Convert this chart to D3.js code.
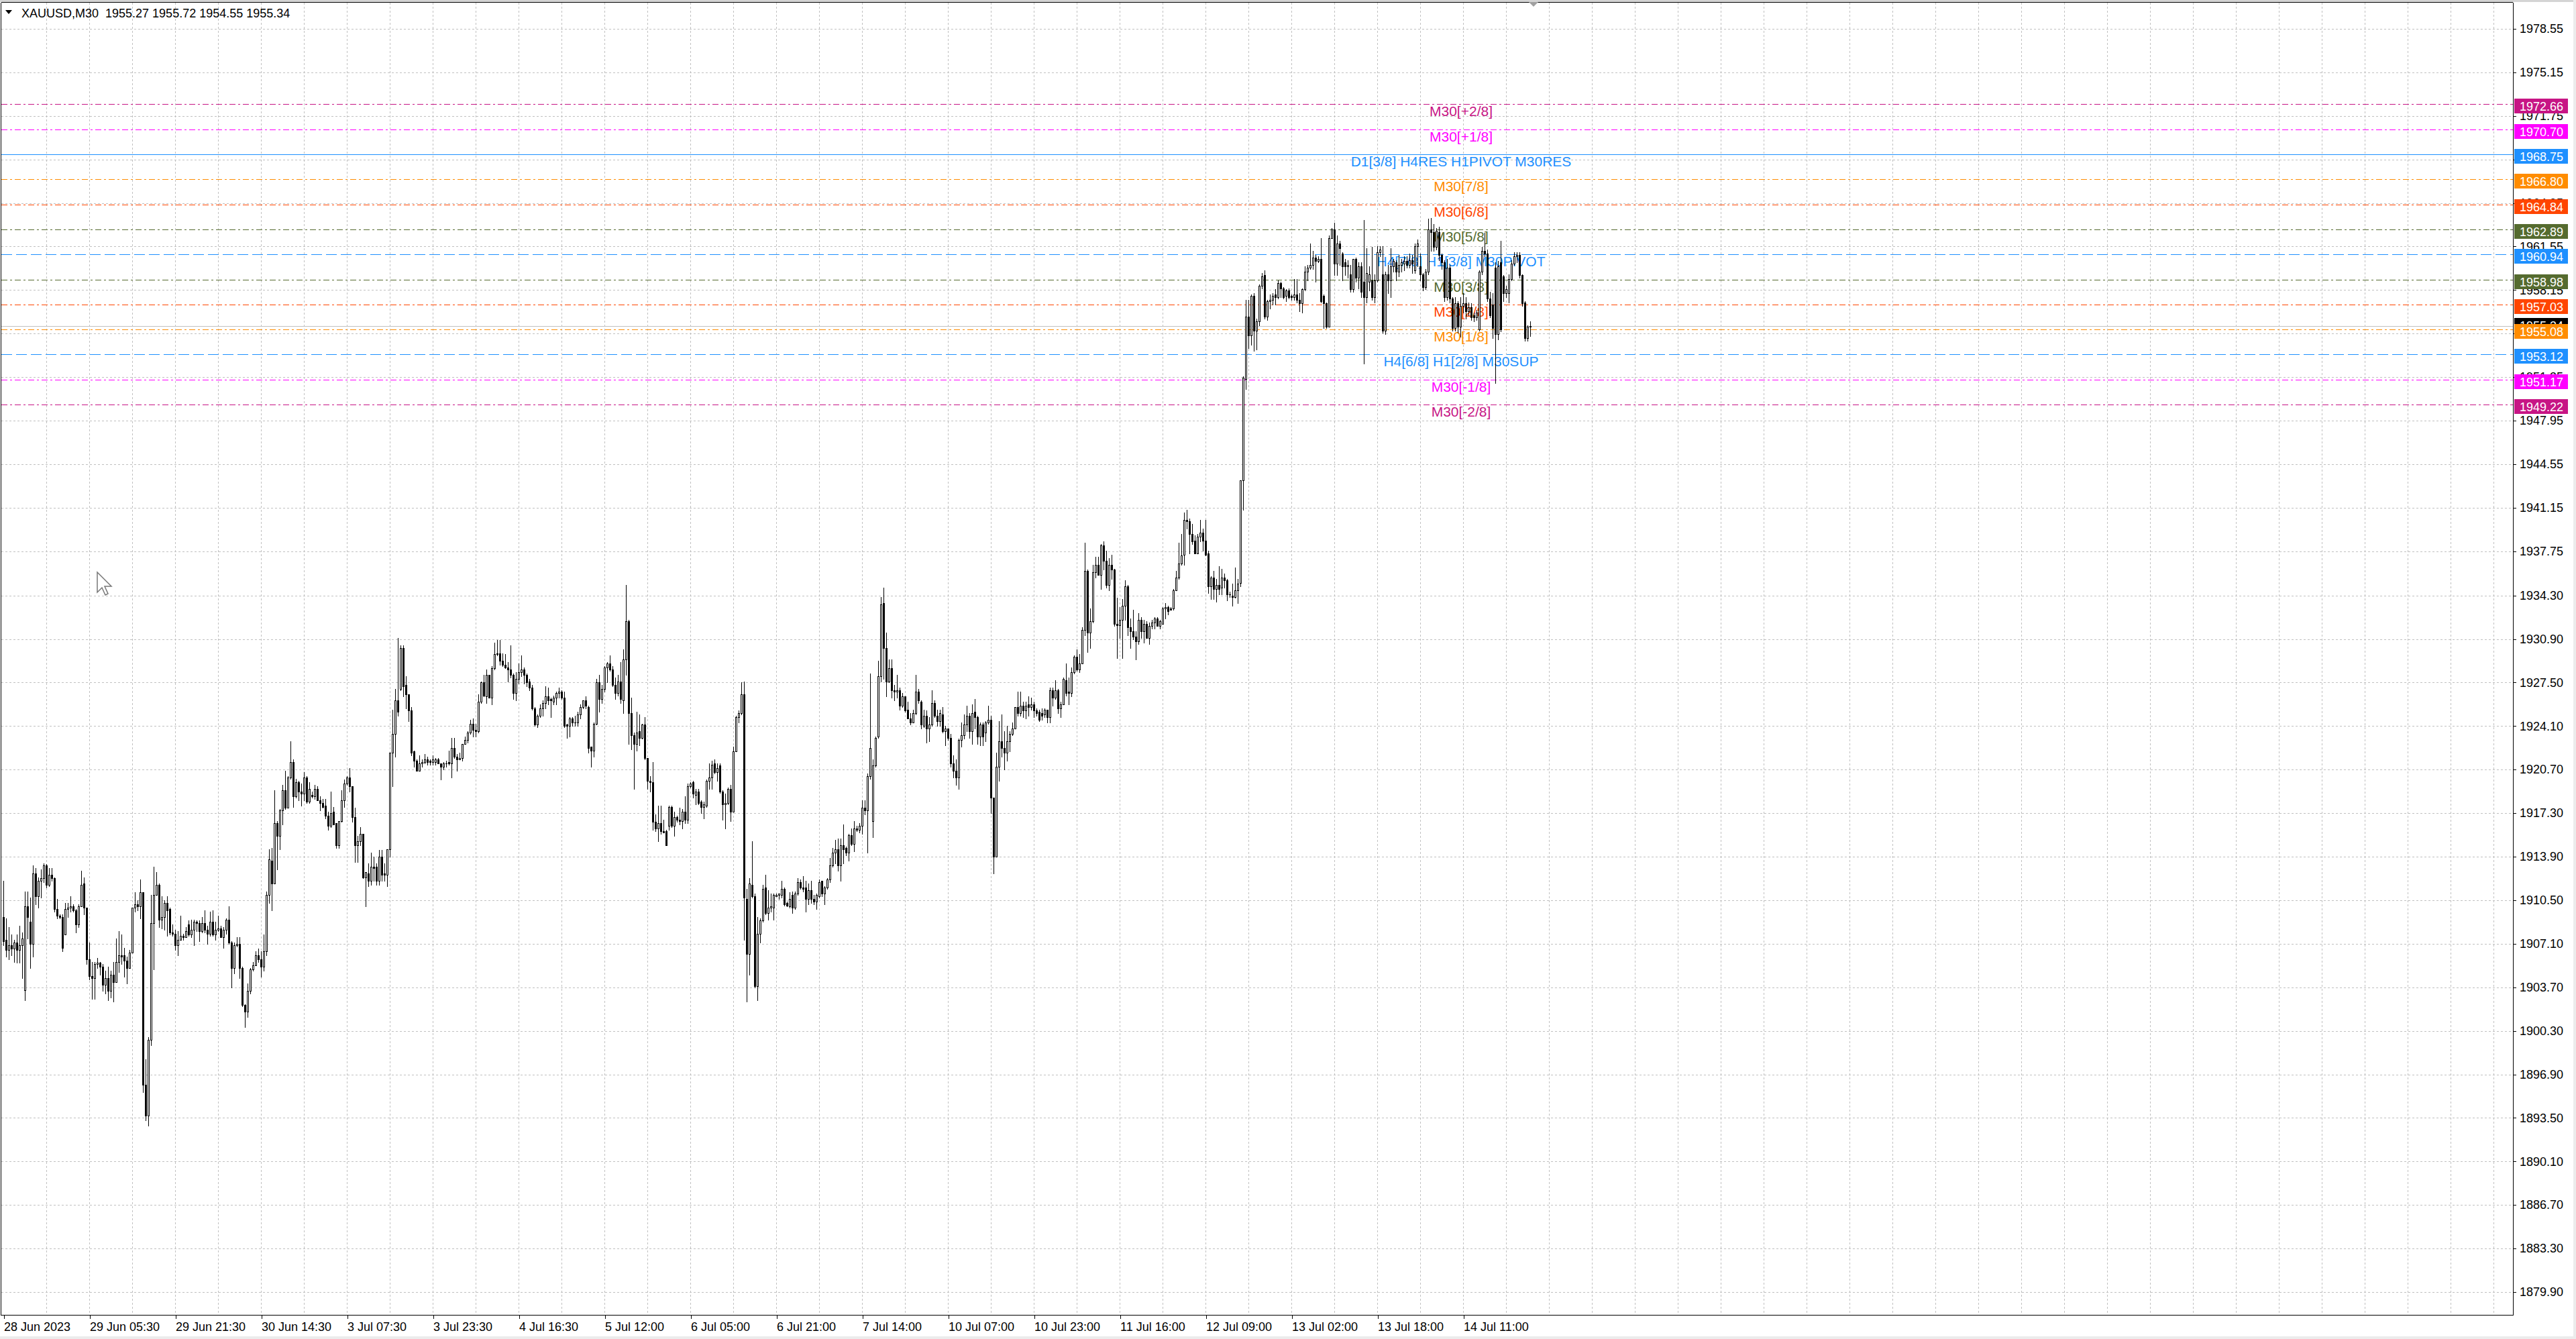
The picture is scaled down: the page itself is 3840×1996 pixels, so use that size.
<!DOCTYPE html>
<html><head><meta charset="utf-8">
<script src="https://cdn.jsdelivr.net/npm/d3@7"></script>
<style>
html,body{margin:0;padding:0;background:#fff;}
svg{display:block;}
text{font-family:"Liberation Sans",Arial,sans-serif;}
</style></head><body>
<svg id="chart" width="3840" height="1996"></svg>
<script>
// ---------------- DATA ----------------
const titleText = "XAUUSD,M30  1955.27 1955.72 1954.55 1955.34";
const timeLabels = ["28 Jun 2023","29 Jun 05:30","29 Jun 21:30","30 Jun 14:30","3 Jul 07:30","3 Jul 23:30","4 Jul 16:30","5 Jul 12:00","6 Jul 05:00","6 Jul 21:00","7 Jul 14:00","10 Jul 07:00","10 Jul 23:00","11 Jul 16:00","12 Jul 09:00","13 Jul 02:00","13 Jul 18:00","14 Jul 11:00"];
const timeLabelBars = [0,32,64,96,128,160,192,224,256,288,320,352,384,416,448,480,512,544];
const priceTicks = ["1978.55","1975.15","1971.75","1968.35","1964.95","1961.55","1958.15","1954.75","1951.35","1947.95","1944.55","1941.15","1937.75","1934.30","1930.90","1927.50","1924.10","1920.70","1917.30","1913.90","1910.50","1907.10","1903.70","1900.30","1896.90","1893.50","1890.10","1886.70","1883.30","1879.90"];
const bidPrice = 1955.34;
const levelValues = [1972.66,1970.70,1968.75,1966.80,1964.84,1962.89,1960.94,1958.98,1957.03,1955.08,1953.12,1951.17,1949.22];
const levelNames = ["M30[+2/8]","M30[+1/8]","D1[3/8] H4RES H1PIVOT M30RES","M30[7/8]","M30[6/8]","M30[5/8]","H4[7/8] H1[3/8] M30PIVOT","M30[3/8]","M30[2/8]","M30[1/8]","H4[6/8] H1[2/8] M30SUP","M30[-1/8]","M30[-2/8]"];

const open = [
1909.2,1907.4,1906.6,1907.0,1906.7,1907.2,1906.6,1907.0,1903.5,1910.0,
1908.8,1907.1,1912.6,1910.8,1912.0,1912.2,1913.2,1911.7,1912.5,1912.2,
1909.8,1909.3,1909.2,1907.8,1909.8,1909.9,1910.0,1909.7,1908.6,1910.0,
1911.8,1909.9,1905.9,1904.6,1904.4,1905.5,1905.6,1905.3,1903.9,1904.4,
1903.4,1904.7,1904.1,1905.7,1906.2,1906.2,1905.8,1905.2,1906.4,1909.9,
1910.2,1910.0,1911.1,1896.1,1893.7,1899.6,1908.7,1910.9,1911.7,1909.0,
1909.2,1910.3,1909.8,1908.0,1907.9,1907.0,1907.4,1907.7,1907.6,1908.6,
1907.8,1908.2,1908.8,1908.7,1908.1,1908.7,1908.2,1907.9,1908.8,1907.8,
1908.2,1908.3,1907.6,1908.2,1909.0,1907.2,1905.2,1907.0,1907.1,1905.2,
1902.3,1901.8,1903.4,1905.1,1905.4,1906.2,1905.9,1905.3,1906.5,1910.9,
1913.6,1911.8,1916.5,1915.5,1917.5,1919.1,1917.7,1920.1,1921.3,1918.6,
1919.7,1919.0,1918.8,1920.1,1918.2,1918.7,1918.6,1919.2,1918.3,1918.1,
1917.9,1917.1,1916.3,1917.4,1916.5,1914.8,1916.7,1918.3,1919.6,1920.1,
1919.4,1917.0,1914.8,1915.1,1915.7,1912.3,1912.6,1912.0,1913.1,1913.1,
1912.0,1913.9,1912.6,1912.5,1914.5,1922.0,1923.5,1926.1,1927.0,1930.2,
1927.3,1926.6,1925.3,1922.1,1921.4,1920.6,1921.2,1921.3,1921.5,1921.4,
1921.3,1921.3,1921.5,1921.2,1920.9,1921.2,1921.3,1921.2,1922.4,1921.7,
1921.5,1921.6,1922.7,1923.0,1923.6,1924.3,1923.8,1923.7,1926.0,1927.5,
1926.4,1928.1,1926.3,1928.6,1929.7,1929.8,1929.2,1928.9,1928.7,1928.5,
1928.1,1926.7,1927.8,1928.3,1928.5,1928.1,1927.6,1927.1,1925.5,1924.2,
1924.9,1925.5,1925.9,1926.4,1926.2,1926.0,1926.3,1926.7,1926.8,1926.3,
1924.2,1924.1,1924.7,1924.4,1924.4,1925.0,1925.6,1926.1,1925.6,1922.5,
1922.2,1924.3,1927.5,1926.2,1927.0,1928.7,1929.0,1928.5,1927.3,1926.7,
1927.6,1926.1,1929.3,1932.3,1925.1,1923.4,1922.7,1923.7,1923.2,1924.2,
1921.6,1919.8,1919.7,1916.6,1916.1,1916.5,1915.9,1915.9,1916.3,1917.8,
1916.3,1917.0,1916.8,1916.7,1917.4,1916.8,1919.4,1919.7,1918.7,1919.0,
1918.2,1917.8,1917.9,1919.8,1920.1,1921.2,1920.5,1921.0,1919.0,1918.0,
1918.1,1919.2,1917.4,1922.1,1924.8,1925.1,1926.6,1910.6,1906.3,1911.7,
1910.8,1903.8,1907.9,1908.9,1911.5,1909.5,1909.9,1909.9,1910.8,1910.9,
1910.9,1911.4,1910.3,1910.0,1910.9,1909.9,1911.0,1911.9,1911.5,1911.5,
1910.6,1911.3,1910.6,1910.4,1910.8,1912.0,1911.0,1911.5,1912.1,1913.2,
1914.2,1914.5,1913.2,1914.8,1914.6,1914.2,1915.6,1914.9,1916.1,1916.0,
1916.3,1917.7,1917.5,1920.2,1916.7,1921.0,1923.3,1928.0,1933.7,1930.2,
1927.6,1928.6,1926.9,1926.8,1926.9,1925.7,1926.4,1925.4,1924.7,1924.4,
1925.1,1926.8,1926.0,1924.1,1924.9,1923.9,1924.2,1925.9,1924.9,1924.5,
1925.0,1923.7,1923.9,1923.2,1921.2,1920.6,1920.1,1923.0,1923.4,1924.2,
1924.9,1923.7,1925.2,1924.8,1923.3,1924.2,1923.6,1924.4,1924.6,1918.5,
1913.9,1920.9,1922.9,1922.4,1922.0,1922.9,1923.5,1923.9,1925.6,1925.1,
1925.7,1925.3,1925.8,1925.6,1925.8,1925.3,1925.2,1925.1,1925.0,1925.4,
1924.8,1926.9,1926.3,1926.9,1925.5,1925.8,1927.7,1926.8,1926.7,1928.3,
1929.5,1928.5,1929.0,1931.6,1936.2,1931.4,1932.3,1936.1,1936.7,1935.9,
1938.2,1937.0,1935.1,1936.7,1936.3,1932.1,1932.0,1932.4,1933.5,1935.0,
1931.8,1931.5,1931.1,1930.7,1932.4,1931.5,1932.1,1931.0,1931.9,1932.2,
1932.5,1931.9,1932.1,1933.3,1933.4,1933.3,1933.3,1934.7,1935.7,1936.8,
1937.5,1940.2,1940.1,1939.1,1938.6,1937.6,1938.9,1939.2,1938.6,1937.6,
1935.0,1935.7,1934.8,1935.1,1934.9,1935.7,1935.5,1934.4,1934.3,1934.2,
1934.7,1935.3,1943.3,1951.2,1956.1,1954.6,1957.7,1955.0,1955.7,1958.5,
1959.3,1956.1,1957.3,1957.4,1957.8,1957.6,1958.7,1958.3,1957.7,1958.1,
1957.7,1957.6,1957.8,1957.4,1957.1,1958.2,1959.6,1959.9,1960.1,1960.7,
1960.4,1960.6,1957.7,1957.1,1955.3,1962.2,1962.9,1960.2,1961.8,1961.0,
1960.3,1960.0,1959.4,1958.2,1960.6,1959.1,1960.0,1958.8,1957.6,1958.8,
1958.9,1957.6,1958.9,1961.1,1959.4,1955.0,1959.4,1958.9,1960.0,1960.3,
1959.6,1960.1,1960.2,1960.4,1960.1,1960.5,1959.7,1961.6,1960.0,1959.4,
1958.4,1959.6,1962.9,1962.7,1961.5,1962.7,1960.9,1960.3,1957.6,1959.9,
1957.5,1955.2,1957.1,1955.3,1956.9,1957.1,1956.5,1956.8,1956.2,1956.0,
1955.1,1959.6,1961.2,1961.0,1957.5,1957.0,1959.9,1954.7,1960.3,1959.2,
1957.9,1957.9,1959.0,1960.2,1960.8,1960.9,1959.3,1957.2,1954.4,1955.27];

const high = [
1912.0,1909.1,1908.4,1907.8,1907.4,1907.8,1908.5,1908.0,1911.2,1911.2,
1910.7,1913.2,1913.0,1912.3,1912.9,1913.4,1913.3,1913.0,1913.0,1912.3,
1910.6,1909.4,1909.4,1910.3,1910.3,1910.8,1910.2,1909.8,1910.2,1912.8,
1912.3,1909.9,1907.2,1905.7,1905.7,1906.0,1905.7,1905.5,1905.0,1905.3,
1905.0,1905.7,1907.5,1908.1,1907.8,1906.8,1906.1,1906.6,1909.9,1911.1,
1910.5,1912.1,1911.1,1898.1,1899.8,1910.9,1913.1,1912.7,1911.8,1910.8,
1910.5,1910.8,1909.9,1908.6,1908.2,1908.1,1909.3,1907.9,1908.4,1908.9,
1909.0,1909.0,1908.9,1908.9,1909.2,1909.7,1908.5,1909.6,1909.7,1908.8,
1909.3,1908.5,1908.4,1909.1,1910.0,1907.3,1907.2,1907.6,1907.6,1905.3,
1902.4,1904.0,1905.2,1905.7,1906.5,1906.7,1906.5,1907.8,1911.2,1914.5,
1914.6,1919.1,1916.7,1917.6,1919.5,1920.6,1920.2,1922.9,1921.5,1920.0,
1919.8,1919.6,1920.5,1920.2,1919.7,1919.0,1919.5,1919.4,1918.6,1918.4,
1918.4,1917.4,1919.0,1917.8,1916.5,1916.7,1919.1,1919.9,1920.2,1920.8,
1919.4,1917.7,1915.5,1916.2,1915.7,1912.7,1913.4,1914.2,1913.9,1913.4,
1914.4,1914.4,1913.4,1914.5,1922.0,1925.4,1927.0,1931.0,1930.4,1930.4,
1928.0,1926.6,1925.6,1922.2,1921.5,1921.8,1921.5,1921.9,1921.7,1921.5,
1921.8,1921.6,1921.6,1921.2,1921.3,1921.4,1922.2,1923.2,1923.2,1921.9,
1922.0,1922.7,1923.3,1923.7,1924.6,1924.7,1924.3,1926.6,1927.6,1928.1,
1928.5,1928.1,1928.8,1930.6,1930.8,1930.8,1929.8,1929.7,1929.1,1930.4,
1928.2,1928.3,1929.0,1929.6,1928.7,1928.2,1927.8,1927.3,1925.6,1925.0,
1925.8,1926.1,1927.2,1927.1,1926.3,1926.5,1926.8,1927.1,1926.9,1926.8,
1924.3,1924.8,1924.8,1924.9,1925.2,1925.8,1926.1,1926.4,1925.7,1922.5,
1924.4,1927.8,1928.1,1927.3,1928.8,1929.1,1929.6,1928.8,1927.9,1928.1,
1929.1,1930.1,1935.1,1932.4,1926.3,1923.6,1925.2,1925.0,1924.3,1924.8,
1921.6,1920.2,1921.3,1917.2,1917.9,1917.9,1916.8,1916.0,1917.9,1917.9,
1917.4,1917.1,1917.7,1917.6,1918.6,1919.6,1919.7,1919.8,1919.2,1919.2,
1918.3,1918.2,1919.9,1921.2,1921.4,1921.5,1921.2,1921.2,1919.1,1918.8,
1919.3,1919.5,1922.5,1924.9,1925.3,1927.5,1927.6,1911.4,1912.2,1915.1,
1911.0,1909.2,1909.1,1911.7,1912.5,1911.3,1911.0,1911.0,1911.0,1911.0,
1912.0,1911.5,1910.4,1911.1,1911.2,1911.2,1912.2,1912.1,1912.4,1912.0,
1911.8,1912.0,1910.9,1911.0,1912.1,1912.0,1911.6,1912.2,1913.8,1914.6,
1915.2,1915.3,1915.3,1916.4,1914.7,1915.7,1916.1,1916.7,1916.3,1916.5,
1918.3,1918.3,1920.4,1928.2,1921.5,1923.3,1929.2,1934.2,1934.9,1931.4,
1929.3,1929.3,1927.3,1928.1,1927.1,1926.7,1926.4,1926.0,1925.1,1925.4,
1928.1,1927.0,1926.1,1925.4,1925.3,1924.8,1926.9,1926.1,1925.4,1925.4,
1925.6,1924.1,1923.9,1923.5,1921.8,1921.5,1923.1,1924.4,1925.0,1925.7,
1925.1,1925.8,1926.2,1924.9,1924.4,1924.4,1924.5,1925.7,1924.9,1918.5,
1922.0,1924.5,1925.0,1923.7,1924.1,1923.7,1924.4,1925.6,1926.8,1926.8,
1926.0,1926.0,1926.4,1926.3,1926.0,1925.5,1925.4,1925.5,1925.5,1925.4,
1927.1,1927.1,1927.7,1927.0,1926.0,1927.9,1929.0,1927.9,1928.7,1929.6,
1930.1,1929.7,1931.8,1938.4,1936.3,1933.3,1936.7,1937.3,1937.3,1938.3,
1938.5,1937.8,1937.2,1937.5,1936.4,1934.1,1933.4,1934.0,1935.5,1935.1,
1932.5,1933.2,1931.5,1932.9,1932.6,1932.4,1932.3,1932.2,1932.4,1932.6,
1932.6,1932.4,1933.4,1933.7,1933.5,1933.4,1934.8,1936.2,1938.4,1939.1,
1940.8,1941.0,1940.3,1939.9,1939.0,1939.1,1940.2,1939.5,1940.2,1937.8,
1935.8,1936.2,1935.6,1936.6,1936.4,1936.0,1935.6,1934.6,1935.2,1936.5,
1935.6,1943.3,1951.4,1957.4,1957.4,1957.8,1957.9,1955.9,1958.6,1959.5,
1959.7,1957.4,1957.8,1957.9,1958.2,1958.9,1958.8,1958.4,1958.2,1958.3,
1957.8,1959.0,1959.0,1957.9,1958.3,1960.0,1960.1,1961.8,1961.2,1960.9,
1960.8,1962.2,1957.8,1957.2,1962.4,1963.0,1963.4,1962.4,1962.0,1961.1,
1960.6,1960.5,1960.1,1960.6,1960.7,1960.3,1960.3,1963.6,1961.4,1960.0,
1961.5,1959.4,1961.6,1961.6,1961.6,1959.6,1960.1,1961.4,1960.6,1960.5,
1960.9,1960.6,1960.8,1960.8,1961.0,1960.9,1961.8,1962.1,1961.0,1959.5,
1959.8,1963.7,1963.8,1963.3,1963.0,1963.1,1961.0,1960.5,1960.6,1960.1,
1957.6,1957.6,1957.3,1957.6,1957.9,1957.6,1957.2,1957.1,1956.4,1956.6,
1959.7,1961.5,1962.6,1961.3,1958.0,1957.9,1960.3,1960.4,1962.0,1959.3,
1958.5,1959.4,1960.5,1961.1,1961.1,1961.1,1959.4,1957.3,1955.4,1955.72];

const low = [
1907.0,1906.1,1905.9,1906.2,1905.7,1905.6,1905.6,1904.4,1902.7,1907.5,
1905.2,1906.1,1910.2,1909.9,1910.7,1911.9,1911.5,1911.6,1912.0,1909.6,
1909.1,1909.1,1906.5,1907.8,1909.2,1909.6,1909.6,1908.0,1908.4,1910.0,
1909.4,1905.5,1904.3,1902.8,1902.8,1905.2,1904.7,1903.4,1903.2,1902.7,
1902.9,1902.6,1904.1,1904.9,1905.5,1904.5,1904.0,1905.2,1906.4,1909.6,
1909.7,1909.1,1895.5,1893.3,1892.9,1899.2,1905.1,1910.9,1908.4,1908.3,
1908.2,1907.7,1907.8,1907.7,1906.6,1906.2,1907.4,1907.4,1907.6,1907.7,
1907.6,1907.0,1908.1,1907.3,1908.0,1908.0,1907.1,1907.7,1907.7,1907.4,
1908.1,1907.6,1906.8,1907.9,1907.1,1903.7,1904.8,1906.9,1904.4,1902.2,
1900.6,1901.4,1903.2,1905.0,1905.4,1905.7,1904.5,1905.0,1906.2,1910.3,
1909.7,1911.8,1912.9,1914.5,1916.4,1917.6,1917.7,1920.0,1917.8,1918.5,
1918.3,1917.9,1918.3,1918.1,1918.1,1918.5,1918.4,1918.3,1917.5,1917.7,
1916.9,1916.0,1916.2,1916.4,1914.6,1914.6,1916.6,1917.8,1919.5,1919.0,
1916.6,1913.5,1913.5,1914.8,1912.2,1910.0,1911.6,1911.7,1912.0,1911.7,
1911.7,1912.0,1912.0,1911.6,1913.9,1919.4,1921.7,1924.9,1926.9,1926.4,
1925.5,1924.5,1921.8,1920.9,1920.6,1920.6,1920.9,1921.2,1921.1,1921.1,
1921.1,1921.1,1921.2,1919.9,1920.7,1920.9,1921.1,1920.1,1921.6,1920.6,
1921.5,1921.4,1922.7,1922.8,1923.5,1923.3,1923.3,1923.6,1925.9,1926.4,
1925.9,1926.3,1925.8,1928.5,1929.6,1928.9,1928.8,1928.6,1927.6,1927.9,
1926.2,1926.1,1927.4,1928.0,1927.4,1927.2,1926.9,1925.4,1924.1,1924.0,
1924.8,1924.9,1925.5,1925.8,1924.8,1925.8,1925.8,1926.3,1926.2,1924.0,
1923.2,1923.3,1924.1,1924.1,1924.1,1924.7,1925.5,1925.5,1922.0,1920.9,
1921.7,1924.2,1925.2,1925.9,1926.8,1927.5,1928.4,1927.2,1926.2,1926.5,
1925.9,1925.1,1928.1,1922.7,1922.3,1919.2,1922.2,1922.6,1923.1,1921.5,
1919.2,1919.0,1916.0,1915.9,1915.1,1915.7,1915.8,1914.8,1916.0,1916.2,
1915.5,1916.6,1916.4,1916.1,1916.5,1916.5,1919.3,1918.5,1918.0,1918.0,
1917.3,1916.9,1917.8,1919.2,1919.2,1920.4,1919.8,1918.9,1916.8,1916.1,
1918.0,1916.7,1917.4,1922.1,1924.4,1925.0,1907.4,1902.6,1904.7,1910.7,
1903.7,1902.7,1907.2,1908.8,1909.4,1909.0,1909.6,1909.0,1910.8,1910.6,
1910.7,1910.1,1910.0,1909.9,1909.5,1909.8,1910.9,1911.4,1911.2,1909.6,
1910.2,1910.3,1910.2,1909.8,1910.7,1910.8,1910.2,1911.4,1911.9,1913.1,
1913.4,1912.8,1912.0,1913.4,1914.0,1913.6,1914.8,1914.3,1915.9,1915.8,
1915.7,1917.2,1914.2,1920.0,1915.4,1920.9,1923.2,1927.6,1927.8,1926.4,
1927.5,1926.3,1926.1,1926.3,1925.4,1925.6,1925.2,1924.7,1924.2,1924.4,
1925.0,1925.9,1923.9,1924.0,1922.8,1922.9,1924.1,1924.8,1924.1,1924.1,
1923.6,1922.6,1923.0,1920.9,1920.1,1919.5,1919.2,1922.5,1923.1,1923.7,
1923.2,1922.7,1923.9,1922.7,1922.6,1922.6,1922.9,1924.3,1917.3,1912.6,
1913.9,1919.8,1921.7,1920.7,1921.4,1922.1,1923.4,1923.9,1924.9,1924.9,
1924.8,1924.7,1924.9,1925.4,1924.8,1924.9,1924.5,1924.6,1924.8,1924.4,
1924.4,1925.7,1926.2,1925.1,1924.8,1925.8,1926.5,1925.8,1926.4,1928.2,
1928.4,1928.3,1929.0,1931.2,1929.9,1930.2,1932.2,1935.7,1935.9,1934.8,
1936.3,1934.9,1934.7,1935.6,1931.9,1929.4,1931.0,1929.4,1932.4,1931.2,
1930.2,1930.9,1929.3,1930.5,1931.0,1930.6,1931.0,1930.5,1931.7,1931.7,
1931.9,1931.7,1932.1,1932.5,1932.8,1933.2,1933.2,1934.7,1935.6,1936.7,
1936.7,1939.5,1937.6,1938.3,1937.6,1937.6,1938.5,1937.8,1937.4,1934.5,
1934.0,1934.0,1933.8,1934.4,1934.4,1934.9,1933.9,1934.2,1933.5,1934.1,
1933.7,1935.0,1941.0,1950.4,1953.6,1953.9,1953.4,1953.5,1955.4,1958.3,
1955.9,1955.8,1956.7,1957.0,1957.0,1957.5,1957.6,1957.5,1957.3,1957.5,
1957.4,1957.4,1957.2,1956.5,1956.4,1958.1,1958.9,1959.8,1959.8,1958.8,
1960.3,1957.2,1955.2,1955.2,1955.3,1962.2,1959.3,1959.3,1960.1,1958.9,
1959.3,1959.1,1958.0,1958.0,1958.8,1958.3,1957.6,1952.4,1957.2,1958.1,
1957.4,1957.2,1958.8,1960.8,1954.8,1954.7,1957.9,1957.6,1959.6,1958.9,
1959.2,1959.6,1959.7,1959.9,1959.9,1959.5,1959.5,1960.0,1958.9,1958.1,
1958.2,1959.4,1961.2,1961.2,1961.3,1960.5,1959.8,1957.3,1957.4,1957.2,
1955.0,1955.0,1954.8,1954.5,1956.4,1955.9,1956.2,1955.8,1955.7,1955.8,
1955.0,1959.4,1960.8,1957.3,1956.0,1954.4,1950.9,1954.3,1954.9,1957.3,
1957.6,1957.2,1958.9,1960.1,1960.3,1959.1,1956.9,1954.2,1954.2,1954.55];

const close = [
1907.3,1906.6,1907.0,1906.7,1907.2,1906.6,1907.0,1907.5,1910.0,1909.2,
1907.1,1912.6,1910.8,1912.0,1912.2,1913.2,1911.7,1912.5,1912.2,1909.8,
1909.3,1909.2,1906.8,1909.8,1909.9,1910.0,1909.7,1908.6,1910.0,1911.7,
1909.9,1905.9,1904.6,1904.4,1905.5,1905.6,1905.3,1903.9,1904.4,1903.4,
1904.7,1904.1,1905.7,1906.2,1906.1,1905.8,1905.2,1906.4,1909.9,1910.2,
1910.0,1911.1,1896.1,1893.7,1899.6,1908.7,1910.9,1911.7,1909.0,1909.2,
1910.3,1909.7,1908.0,1907.9,1907.0,1907.4,1907.7,1907.6,1908.1,1907.8,
1908.2,1908.8,1908.7,1908.1,1908.7,1908.2,1907.9,1908.8,1907.8,1908.2,
1908.3,1907.6,1908.2,1909.0,1907.2,1905.2,1907.0,1907.1,1905.2,1902.3,
1901.8,1903.4,1905.1,1905.4,1906.2,1905.9,1905.3,1906.5,1910.9,1913.7,
1911.8,1916.5,1915.5,1917.5,1919.1,1917.7,1920.1,1921.3,1918.6,1919.7,
1919.0,1918.8,1920.1,1918.2,1919.2,1918.6,1919.2,1918.3,1918.1,1917.8,
1917.1,1916.3,1917.3,1916.4,1914.8,1916.7,1918.3,1919.6,1920.1,1919.4,
1917.0,1914.8,1915.1,1915.7,1912.3,1912.7,1912.0,1913.1,1913.0,1912.0,
1913.9,1912.5,1912.5,1914.5,1922.0,1923.5,1926.1,1925.2,1930.2,1927.2,
1926.6,1925.3,1922.0,1921.4,1920.6,1921.2,1921.3,1921.5,1921.3,1921.3,
1921.5,1921.5,1921.2,1920.9,1921.2,1921.2,1921.2,1922.4,1921.7,1921.5,
1921.6,1922.7,1923.0,1923.6,1924.3,1923.8,1923.7,1926.0,1927.5,1926.5,
1928.1,1926.3,1928.6,1929.7,1929.8,1929.2,1928.9,1928.7,1928.5,1928.1,
1926.7,1927.8,1928.3,1928.5,1928.1,1927.5,1927.1,1925.5,1924.2,1924.9,
1925.5,1925.9,1926.4,1926.1,1926.1,1926.3,1926.7,1926.8,1926.3,1924.1,
1924.1,1924.7,1924.4,1924.4,1925.0,1925.6,1926.1,1925.7,1922.4,1922.2,
1924.3,1927.5,1926.2,1927.0,1928.7,1929.0,1928.5,1927.3,1926.7,1927.6,
1926.2,1929.3,1932.3,1925.1,1923.4,1922.7,1923.6,1923.2,1924.2,1921.6,
1919.8,1919.7,1916.6,1916.1,1916.5,1915.9,1915.8,1914.8,1917.8,1916.3,
1917.0,1916.8,1916.7,1917.4,1916.8,1919.4,1919.6,1918.8,1919.0,1918.1,
1917.8,1918.0,1919.8,1920.1,1921.1,1920.5,1920.8,1919.0,1918.0,1918.1,
1919.2,1917.4,1922.1,1924.8,1925.1,1926.6,1910.7,1906.3,1911.8,1910.8,
1903.8,1907.9,1908.9,1911.4,1909.5,1909.9,1910.0,1910.9,1910.9,1911.0,
1911.4,1910.2,1910.1,1910.6,1909.9,1911.0,1911.9,1911.5,1911.4,1910.6,
1911.3,1910.6,1910.4,1910.9,1911.9,1911.0,1911.5,1912.1,1913.2,1914.2,
1914.5,1913.2,1914.8,1914.5,1914.2,1915.6,1914.9,1916.1,1916.0,1916.3,
1917.7,1917.5,1920.2,1922.4,1921.0,1923.2,1928.0,1933.6,1930.2,1927.6,
1928.6,1926.9,1926.8,1926.9,1925.7,1926.4,1925.3,1924.7,1924.4,1925.1,
1926.8,1926.1,1924.2,1924.9,1923.9,1924.2,1925.9,1924.9,1924.5,1925.1,
1923.7,1923.9,1923.2,1921.2,1920.6,1920.1,1923.0,1923.4,1924.2,1924.9,
1923.7,1925.1,1924.8,1923.3,1924.2,1923.3,1924.4,1924.6,1918.5,1913.9,
1920.9,1922.9,1922.4,1922.0,1922.9,1923.5,1923.9,1925.6,1925.1,1925.7,
1925.3,1925.7,1925.6,1925.8,1925.3,1925.1,1924.6,1924.9,1925.4,1924.8,
1926.9,1926.3,1926.9,1925.5,1925.8,1927.8,1926.7,1926.7,1928.3,1929.5,
1928.5,1929.0,1931.6,1936.2,1931.4,1932.3,1936.1,1936.7,1935.9,1938.2,
1937.0,1935.1,1936.7,1936.3,1932.1,1932.0,1932.4,1933.5,1935.0,1931.8,
1931.5,1931.1,1930.7,1932.4,1931.5,1932.1,1931.0,1931.9,1932.2,1932.5,
1931.9,1932.3,1933.3,1933.4,1933.1,1933.2,1934.7,1935.7,1936.8,1937.4,
1940.2,1940.1,1939.1,1938.5,1937.6,1938.9,1939.2,1938.6,1937.5,1935.0,
1935.7,1934.8,1935.1,1934.8,1935.7,1935.5,1934.4,1934.4,1934.2,1934.7,
1935.2,1943.3,1951.3,1956.1,1954.6,1957.7,1955.0,1955.7,1958.5,1959.2,
1956.1,1957.3,1957.4,1957.7,1957.6,1958.7,1958.3,1957.6,1958.1,1957.6,
1957.6,1957.8,1957.4,1957.1,1958.2,1959.6,1959.9,1960.1,1960.7,1960.4,
1960.6,1957.3,1957.1,1955.3,1962.2,1962.9,1960.2,1961.8,1961.4,1960.0,
1960.0,1960.1,1958.2,1960.6,1959.1,1960.0,1958.0,1957.6,1959.5,1959.4,
1957.6,1958.9,1961.1,1961.3,1955.0,1959.4,1958.9,1960.0,1960.4,1959.6,
1960.1,1960.3,1960.4,1960.1,1960.5,1960.2,1961.6,1961.8,1959.4,1958.4,
1959.6,1962.9,1962.7,1961.5,1962.8,1960.9,1960.3,1957.6,1959.9,1957.5,
1955.2,1957.1,1955.3,1956.9,1957.1,1956.5,1956.8,1956.0,1956.0,1956.4,
1959.6,1961.2,1961.0,1957.5,1956.2,1955.2,1954.7,1960.0,1955.1,1957.9,
1958.2,1959.0,1960.2,1960.8,1960.9,1959.3,1957.1,1954.4,1955.3,1955.34];

// ---------------- STYLES ----------------
const levelColors = ["#C71585","#FF00FF","#1E90FF","#FF8C00","#FF4500","#556B2F","#1E90FF","#556B2F","#FF4500","#FF8C00","#1E90FF","#FF00FF","#C71585"];
const levelDash = ["9,4,3,4","9,4,3,4",null,"9,4,3,4","9,4,3,4","9,4,3,4","16,6","9,4,3,4","9,4,3,4","9,4,3,4","16,6","9,4,3,4","9,4,3,4"];

// ---------------- CHART ----------------
const W = 3840, H = 1996;
const plot = {left: 2, top: 4, right: 3746, bottom: 1960};
const x = d3.scaleLinear().domain([0, 100]).range([5.5, 405.5]);
const y = d3.scaleLinear().domain([1879.90, 1978.55]).range([1926, 43]);
const svg = d3.select("#chart");

svg.append("rect").attr("width", W).attr("height", H).attr("fill", "#fff");
svg.append("rect").attr("x", 0).attr("y", 0).attr("width", W).attr("height", 3).attr("fill", "#d4d4d4");
svg.append("rect").attr("x", 3836).attr("y", 0).attr("width", 4).attr("height", H).attr("fill", "#ececec");
svg.append("rect").attr("x", 0).attr("y", 1992).attr("width", W).attr("height", 4).attr("fill", "#ececec");

// grid
const grid = svg.append("g").attr("shape-rendering", "crispEdges").attr("stroke", "#c0c0c0").attr("stroke-dasharray", "3,3");
priceTicks.forEach(t => {
  const yy = Math.round(y(+t)) + 0.5;
  grid.append("line").attr("x1", plot.left).attr("x2", plot.right).attr("y1", yy).attr("y2", yy);
});
for (let k = 1; x(16 * k) < plot.right; k++) {
  const xx = Math.floor(x(16 * k)) + 0.5;
  grid.append("line").attr("x1", xx).attr("x2", xx).attr("y1", plot.top).attr("y2", plot.bottom);
}

// level lines
const lv = svg.append("g").attr("shape-rendering", "crispEdges");
levelValues.forEach((v, i) => {
  const yy = Math.round(y(v)) + 0.5;
  const l = lv.append("line").attr("x1", plot.left).attr("x2", plot.right).attr("y1", yy).attr("y2", yy)
    .attr("stroke", levelColors[i]).attr("stroke-width", 1);
  if (levelDash[i]) l.attr("stroke-dasharray", levelDash[i]);
});
// bid line
const by = Math.round(y(bidPrice)) + 0.5;
lv.append("line").attr("x1", plot.left).attr("x2", plot.right).attr("y1", by).attr("y2", by).attr("stroke", "#c0c0c0");

// level texts
const lt = svg.append("g");
levelValues.forEach((v, i) => {
  lt.append("text").attr("x", 2178).attr("y", Math.round(y(v)) + 17.5)
    .attr("text-anchor", "middle").attr("font-size", 21).attr("fill", levelColors[i]).text(levelNames[i]);
});

// candles
const n = Math.min(open.length, high.length, low.length, close.length);
const bars = d3.range(n).map(i => ({i, o: open[i], h: high[i], l: low[i], c: close[i]}));
const cg = svg.append("g").attr("shape-rendering", "crispEdges");
cg.selectAll("line.wick").data(bars).join("line").attr("class", "wick")
  .attr("x1", d => x(d.i)).attr("x2", d => x(d.i))
  .attr("y1", d => Math.round(y(Math.max(d.h, d.o, d.c))))
  .attr("y2", d => Math.round(y(Math.min(d.l, d.o, d.c))) + 1)
  .attr("stroke", "#000").attr("stroke-width", 1);
bars.forEach(d => {
  const top = Math.round(y(Math.max(d.o, d.c)));
  const bot = Math.round(y(Math.min(d.o, d.c)));
  const cx = x(d.i);
  if (d.c > d.o && bot - top >= 2) {
    cg.append("rect").attr("x", cx - 1).attr("y", top + 0.5).attr("width", 2).attr("height", bot - top)
      .attr("fill", "#fff").attr("stroke", "#000").attr("stroke-width", 1);
  } else {
    cg.append("rect").attr("x", cx - 1.5).attr("y", top).attr("width", 3).attr("height", bot - top + 1)
      .attr("fill", "#000");
  }
});

// frame
const fr = svg.append("g").attr("shape-rendering", "crispEdges").attr("stroke", "#000");
fr.append("line").attr("x1", plot.left - 0.5).attr("x2", plot.right).attr("y1", plot.top - 0.5).attr("y2", plot.top - 0.5);
fr.append("line").attr("x1", plot.left - 0.5).attr("x2", plot.left - 0.5).attr("y1", plot.top - 0.5).attr("y2", plot.bottom + 0.5);
fr.append("line").attr("x1", plot.right + 0.5).attr("x2", plot.right + 0.5).attr("y1", plot.top - 0.5).attr("y2", plot.bottom + 1);
fr.append("line").attr("x1", plot.left - 0.5).attr("x2", plot.right + 1).attr("y1", plot.bottom + 0.5).attr("y2", plot.bottom + 0.5);

// price axis
const yAxis = d3.axisRight(y).tickValues(priceTicks.map(Number)).tickFormat((d, i) => priceTicks[i]).tickSize(5).tickPadding(5);
const ya = svg.append("g").attr("transform", `translate(${plot.right},0)`).call(yAxis);
ya.select(".domain").remove();
ya.selectAll("line").attr("stroke", "#000").attr("shape-rendering", "crispEdges");
ya.selectAll("text").attr("font-size", 18).attr("font-family", '"Liberation Sans",Arial,sans-serif').attr("fill", "#000").attr("x", 10);

// time axis
const xAxis = d3.axisBottom(x).tickValues(timeLabelBars).tickFormat((d, i) => timeLabels[i]).tickSize(6);
const xa = svg.append("g").attr("transform", `translate(0,${plot.bottom})`).call(xAxis);
xa.select(".domain").remove();
xa.selectAll("line").attr("stroke", "#000").attr("shape-rendering", "crispEdges");
xa.selectAll("text").attr("font-size", 18).attr("font-family", '"Liberation Sans",Arial,sans-serif').attr("fill", "#000")
  .attr("text-anchor", "start").attr("x", 0).attr("dy", 0).attr("y", 24);

// price label boxes
const bx = svg.append("g").attr("shape-rendering", "crispEdges");
function priceBox(v, color, offset) {
  const top = Math.round(y(v)) - offset;
  bx.append("rect").attr("x", 3748).attr("y", top).attr("width", 80).attr("height", 22).attr("fill", color);
  bx.append("text").attr("x", 3756).attr("y", top + 17.5).attr("font-size", 18).attr("fill", "#fff").text(v.toFixed(2));
}
priceBox(bidPrice, "#000", 12);
levelValues.forEach((v, i) => priceBox(v, levelColors[i], 8));

// title
svg.append("path").attr("d", "M8,15 L18,15 L13,21 Z").attr("fill", "#000");
svg.append("text").attr("x", 32).attr("y", 26).attr("font-size", 18).attr("fill", "#000")
  .style("white-space", "pre").text(titleText);

// chart shift marker
svg.append("path").attr("d", "M2279,3 L2293,3 L2286,10 Z").attr("fill", "#a0a0a0");

// mouse cursor
svg.append("path").attr("transform", "translate(145,853)")
  .attr("d", "M0,0 L0,30 L7,23 L12,34 L16,32 L11,21 L21,21 Z")
  .attr("fill", "#fff").attr("stroke", "#777").attr("stroke-width", 1.5);
</script>
</body></html>
